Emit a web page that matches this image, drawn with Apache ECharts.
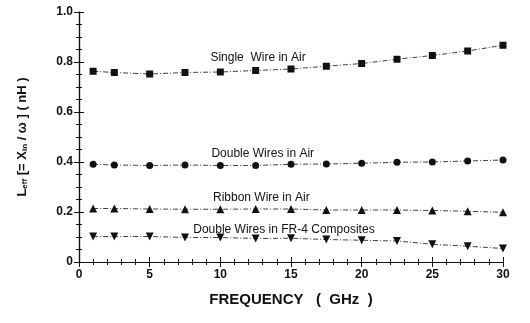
<!DOCTYPE html>
<html>
<head>
<meta charset="utf-8">
<script src="https://cdn.jsdelivr.net/npm/echarts@6/dist/echarts.min.js"></script>
<style>
	html, body { margin: 0; padding: 0; background: #fff; }
	#chart { width: 530px; height: 323px; }
</style>
</head>
<body>
<div id="chart"></div>
<script>
// frequency points (GHz)
const frequency = [1, 2.5, 5, 7.5, 10, 12.5, 15, 17.5, 20, 22.5, 25, 27.5, 30];

// Leff (nH)
const singleWireAir = [0.763, 0.758, 0.752, 0.758, 0.760, 0.766, 0.772, 0.783, 0.794, 0.811, 0.826, 0.844, 0.867];
const doubleWiresAir = [0.391, 0.388, 0.386, 0.388, 0.386, 0.386, 0.391, 0.392, 0.395, 0.399, 0.400, 0.404, 0.408];
const ribbonWireAir = [0.214, 0.214, 0.212, 0.211, 0.211, 0.212, 0.212, 0.208, 0.208, 0.208, 0.206, 0.203, 0.199];
const doubleWiresFR4 = [0.102, 0.102, 0.102, 0.098, 0.098, 0.094, 0.095, 0.090, 0.087, 0.084, 0.071, 0.063, 0.054];

const seriesNames = ["Single  Wire in Air", "Double Wires in Air", "Ribbon Wire in Air", "Double Wires in FR-4 Composites"];
const seriesSymbols = ["rect", "circle", "triangle", "path://M0,0 L10,0 L5,9 Z"];
const seriesSizes = [7, 7, 8, 8];
// label anchor in data units [GHz, nH]
const labelAnchors = [[12.67, 0.819], [13.0, 0.433], [12.9, 0.257], [14.5, 0.131]];

const ink = "#111";
const chart = echarts.init(document.getElementById("chart"));

const makeSeries = (values, i) => ({
	name: seriesNames[i],
	type: "line",
	data: frequency.map((f, k) => [f, values[k]]),
	symbol: seriesSymbols[i],
	symbolSize: seriesSizes[i],
	showSymbol: true,
	itemStyle: { color: ink },
	lineStyle: { color: ink, width: 0.8, type: [5, 2, 1, 2] },
	animation: false,
	markPoint: {
		symbol: "circle",
		symbolSize: 0,
		silent: true,
		data: [{ coord: labelAnchors[i] }],
		label: {
			show: true,
			position: "inside",
			formatter: seriesNames[i],
			color: ink,
			fontFamily: "Liberation Sans",
			fontSize: 12
		}
	}
});

const tickFont = { color: ink, fontFamily: "Liberation Sans", fontWeight: "bold", fontSize: 12 };

const option = {
	backgroundColor: "#fff",
	animation: false,
	grid: { left: 79, right: 27, top: 12, bottom: 61 },
	xAxis: [
		{
			type: "value",
			min: 0,
			max: 30,
			interval: 5,
			name: "FREQUENCY   (  GHz  )",
			nameLocation: "middle",
			nameGap: 30,
			nameTextStyle: { color: ink, fontFamily: "Liberation Sans", fontWeight: "bold", fontSize: 15 },
			axisLine: { lineStyle: { color: ink, width: 1.2 } },
			axisTick: { inside: true, length: 5, lineStyle: { color: ink } },
			minorTick: { show: true, splitNumber: 5, length: 3, lineStyle: { color: ink } },
			axisLabel: { ...tickFont, margin: 7 },
			splitLine: { show: false }
		},
		{
			type: "value",
			position: "top",
			min: 0,
			max: 30,
			interval: 5,
			axisLine: { show: true, lineStyle: { color: ink, width: 1.2 } },
			axisTick: { inside: true, length: 5, lineStyle: { color: ink } },
			minorTick: { show: true, splitNumber: 5, length: 3, lineStyle: { color: ink } },
			axisLabel: { show: false },
			splitLine: { show: false }
		}
	],
	yAxis: [
		{
			type: "value",
			min: 0,
			max: 1,
			interval: 0.2,
			name: "{b|L}{s|eff}{b| [= X}{s|in}{b| / ω ] ( nH )}",
			nameLocation: "middle",
			nameGap: 50,
			nameRotate: 90,
			nameTextStyle: {
				rich: {
					b: { color: ink, fontFamily: "Liberation Sans", fontWeight: "bold", fontSize: 13 },
					s: { color: ink, fontFamily: "Liberation Sans", fontWeight: "bold", fontSize: 8, verticalAlign: "bottom", padding: [6, 0, 0, 0] }
				}
			},
			axisLine: { show: true, lineStyle: { color: ink, width: 1.2 } },
			axisTick: { inside: true, length: 5, lineStyle: { color: ink } },
			minorTick: { show: true, splitNumber: 4, length: 3, lineStyle: { color: ink } },
			axisLabel: {
				...tickFont,
				margin: 6,
				formatter: v => (v === 0 ? "0" : v.toFixed(1))
			},
			splitLine: { show: false }
		},
		{
			type: "value",
			position: "right",
			min: 0,
			max: 1,
			interval: 0.2,
			axisLine: { show: true, lineStyle: { color: ink, width: 1.2 } },
			axisTick: { inside: true, length: 5, lineStyle: { color: ink } },
			minorTick: { show: true, splitNumber: 4, length: 3, lineStyle: { color: ink } },
			axisLabel: { show: false },
			splitLine: { show: false }
		}
	],
	series: [singleWireAir, doubleWiresAir, ribbonWireAir, doubleWiresFR4].map(makeSeries)
};

chart.setOption(option);
</script>
</body>
</html>
